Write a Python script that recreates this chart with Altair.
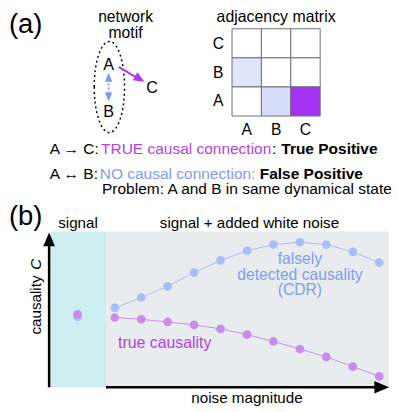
import altair as alt
import pandas as pd

# ---------------- data: panel (b) ----------------
noise_steps = [0, 1, 2, 3, 4, 5, 6, 7, 8, 9, 10]
false_causality = [0.513, 0.580, 0.652, 0.741, 0.820, 0.882, 0.922, 0.937, 0.922, 0.875, 0.806]
true_causality = [0.451, 0.439, 0.422, 0.403, 0.377, 0.340, 0.296, 0.247, 0.196, 0.133, 0.070]
signal_values = {"false": 0.456, "true": 0.472}

# ---------------- data: panel (a) adjacency matrix ----------------
matrix_rows = ["C", "B", "A"]          # top -> bottom
matrix_cols = ["A", "B", "C"]
matrix_state = [["none", "none", "none"],
                ["false", "none", "none"],
                ["none", "false2", "true"]]

# ---------------- colours / layout ----------------
PURPLE = "#b236ee"
BLUE = "#7d98f2"
PURPLE_TXT = "#b440e6"
BLUE_TXT = "#7f9cf0"
cell_colors = {"none": "#ffffff", "false": "#dfe6fb", "false2": "#d5dcf8", "true": "#a532f5"}
FONT = "Liberation Sans"
FS = 15.5     # plot labels
FA = 15.8     # panel (a) text lines

W, H = 391, 400
XS = alt.Scale(domain=[8, 399], nice=False, zero=False)
YS = alt.Scale(domain=[8, 408], nice=False, zero=False, reverse=True)


def enc(chart, x2=False, y2=False):
    e = dict(x=alt.X("x:Q", scale=XS, axis=None), y=alt.Y("y:Q", scale=YS, axis=None))
    if x2:
        e["x2"] = alt.X2("x2:Q")
    if y2:
        e["y2"] = alt.Y2("y2:Q")
    return chart.encode(**e)


# background panels of (b)
bg = pd.DataFrame({"x": [52, 108], "x2": [108, 397], "y": [232, 232], "y2": [391, 391],
                   "c": ["#cdeef1", "#e9ecee"]})
bg_layer = enc(alt.Chart(bg).mark_rect(), True, True).encode(color=alt.Color("c:N", scale=None))

# adjacency matrix cells
m_left, m_top, cw, ch = 236.7, 25.0, 30.0, 29.7
cells = []
for i, r in enumerate(matrix_rows):
    for j, c in enumerate(matrix_cols):
        cells.append({"x": m_left + j * cw, "x2": m_left + (j + 1) * cw,
                      "y": m_top + i * ch, "y2": m_top + (i + 1) * ch,
                      "c": cell_colors[matrix_state[i][j]]})
cell_layer = enc(alt.Chart(pd.DataFrame(cells)).mark_rect(stroke="#6f6f6f", strokeWidth=1),
                 True, True).encode(color=alt.Color("c:N", scale=None))

# axis arrows of (b)
axes = pd.DataFrame({"x": [50, 108], "x2": [50, 388], "y": [391, 391], "y2": [244, 391]})
axes_layer = enc(alt.Chart(axes).mark_rule(color="black", strokeWidth=2.6), True, True)

UP = "M0,-1L0.85,1L-0.85,1Z"
RIGHT = "M1,0L-1,0.85L-1,-0.85Z"
DOWN = "M0,1L0.85,-1L-0.85,-1Z"
head_up = enc(alt.Chart(pd.DataFrame({"x": [50], "y": [240]})).mark_point(
    shape=UP, filled=True, color="black", size=14 ** 2, opacity=1, strokeWidth=0))
head_right = enc(alt.Chart(pd.DataFrame({"x": [389.5], "y": [391]})).mark_point(
    shape=RIGHT, filled=True, color="black", size=15 ** 2, opacity=1, strokeWidth=0))

# motif: dotted ellipse
ELL = "M-0.333,0A0.333,1,0,1,1,0.333,0A0.333,1,0,1,1,-0.333,0Z"
ellipse = enc(alt.Chart(pd.DataFrame({"x": [111.5], "y": [84.5]})).mark_point(
    shape=ELL, filled=False, color="black", size=93 ** 2, strokeWidth=1.5,
    strokeDash=[2, 3], opacity=1))

# motif arrows
p_arrow = enc(alt.Chart(pd.DataFrame({"x": [121], "y": [64], "x2": [141], "y2": [76]})).mark_rule(
    color=PURPLE, strokeWidth=2), True, True)
p_head = enc(alt.Chart(pd.DataFrame({"x": [142.5], "y": [76.3]})).mark_point(
    shape=RIGHT, filled=True, color=PURPLE, size=11 ** 2, angle=31, opacity=1, strokeWidth=0))
b_arrow = enc(alt.Chart(pd.DataFrame({"x": [110.7], "y": [77], "x2": [110.7], "y2": [92]})).mark_rule(
    color=BLUE, strokeWidth=2, strokeDash=[2, 2]), True, True)
b_head_up = enc(alt.Chart(pd.DataFrame({"x": [110.7], "y": [74.5]})).mark_point(
    shape=UP, filled=True, color=BLUE, size=9 ** 2, opacity=1, strokeWidth=0))
b_head_dn = enc(alt.Chart(pd.DataFrame({"x": [110.7], "y": [94.5]})).mark_point(
    shape=DOWN, filled=True, color=BLUE, size=9 ** 2, opacity=1, strokeWidth=0))


def texts(rows, **props):
    df = pd.DataFrame(rows, columns=["t", "x", "y", "c", "s"])
    base = dict(font=FONT, baseline="middle")
    base.update(props)
    return enc(alt.Chart(df).mark_text(**base)).encode(
        text="t:N", color=alt.Color("c:N", scale=None), size=alt.Size("s:Q", scale=None))


center_txt = texts([
    ["(a)", 26, 21, "black", 28],
    ["(b)", 26, 217, "black", 28],
    ["network", 128, 13, "black", 16],
    ["motif", 128, 29, "black", 16],
    ["adjacency matrix", 281.7, 13.5, "black", 16.2],
    ["A", 110.7, 62, "black", 16.5],
    ["B", 110.7, 110, "black", 16.5],
    ["C", 155, 86, "black", 16.5],
    ["C", 222.7, 41, "black", 16],
    ["B", 222.7, 70, "black", 16],
    ["A", 222.7, 99, "black", 16],
    ["A", 251.7, 128, "black", 16],
    ["B", 281.7, 128, "black", 16],
    ["C", 311.7, 128, "black", 16],
    ["signal", 79.5, 223, "black", FS],
    ["signal + added white noise", 254.5, 223, "black", FS],
    ["noise magnitude", 252, 402, "black", FS],
    ["true causality", 168, 346, PURPLE_TXT, 16.2],
    ["falsely", 306, 260, BLUE_TXT, 16],
    ["detected causality", 306, 276, BLUE_TXT, 16],
    ["(CDR)", 306, 292, BLUE_TXT, 16],
], align="center")

left_txt = texts([
    ["A \u2192 C:", 50.7, 148, "black", FA],
    ["TRUE causal connection", 103, 148, PURPLE_TXT, FA],
    [":", 277.5, 148, "black", FA],
    ["A \u2194 B:", 50.7, 173, "black", FA],
    ["NO causal connection:", 101.7, 173, BLUE_TXT, FA],
    ["Problem: A and B in same dynamical state", 104, 189, "black", FA],
], align="left")

bold_txt = texts([
    ["True Positive", 287, 148, "black", FA],
    ["False Positive", 265, 173, "black", FA],
], align="left", fontWeight="bold")

rot_txt = texts([["causality", 37, 307, "black", FS]], align="center", angle=270)
rot_it = texts([["C", 37, 265.5, "black", FS]], align="center", angle=270, fontStyle="italic")

layout = alt.layer(bg_layer, axes_layer, head_up, head_right, cell_layer, ellipse,
                   p_arrow, p_head, b_arrow, b_head_up, b_head_dn,
                   center_txt, left_txt, bold_txt, rot_txt, rot_it)

# ---------------- data layer with its own scales ----------------
PX_PER_STEP = 27.0          # pixels per noise step
PX_NOISE0 = 117.0           # page x of first noise step
PX_PER_UNIT = 158.0         # pixels per unit causality
PX_ZERO = 391.0             # page y of zero causality
SIGNAL_X = (79.0 - PX_NOISE0) / PX_PER_STEP   # position of noise-free column
d0 = (8 - PX_NOISE0) / PX_PER_STEP
d1 = d0 + W / PX_PER_STEP
e1 = (PX_ZERO - 8) / PX_PER_UNIT
e0 = e1 - H / PX_PER_UNIT
DX = alt.Scale(domain=[d0, d1], nice=False, zero=False)
DY = alt.Scale(domain=[e0, e1], nice=False, zero=False)

series = pd.DataFrame({
    "noise": noise_steps * 2,
    "C": false_causality + true_causality,
    "kind": ["false"] * len(noise_steps) + ["true"] * len(noise_steps),
})
sig = pd.DataFrame({"noise": [SIGNAL_X, SIGNAL_X],
                    "C": [signal_values["false"], signal_values["true"]],
                    "kind": ["false", "true"]})
allpts = pd.concat([sig, series], ignore_index=True)
allpts["order"] = range(len(allpts))

dx = alt.X("noise:Q", scale=DX, axis=None)
dy = alt.Y("C:Q", scale=DY, axis=None)
col_line = alt.Color("kind:N", scale=alt.Scale(domain=["false", "true"], range=["#a9bdf6", "#c98ceb"]), legend=None)
col_pt = alt.Color("kind:N", scale=alt.Scale(domain=["false", "true"], range=[BLUE, PURPLE]), legend=None)

lines = alt.Chart(series).mark_line(strokeWidth=1).encode(x=dx, y=dy, color=col_line, detail="kind:N")
pts = alt.Chart(allpts).mark_circle(size=78, opacity=1).encode(x=dx, y=dy, color=col_pt, order="order:Q")
data_layer = alt.layer(lines, pts)

chart = alt.layer(layout, data_layer).resolve_scale(
    x="independent", y="independent", color="independent"
).properties(width=W, height=H, padding=0, autosize=alt.AutoSizeParams(type="none")
).configure_view(stroke=None)

chart.save("out.html", embed_options={"renderer": "svg", "actions": False})
